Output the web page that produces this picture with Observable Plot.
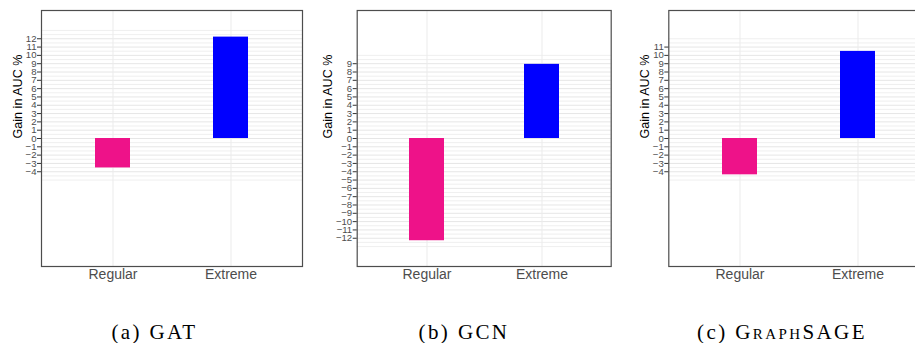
<!DOCTYPE html>
<html>
<head>
<meta charset="utf-8">
<script src="https://cdn.jsdelivr.net/npm/d3@7"></script>
<script src="https://cdn.jsdelivr.net/npm/@observablehq/plot@0.6"></script>
<style>
  html, body { margin: 0; padding: 0; background: #fff; overflow: hidden; }
  #wrap { position: relative; width: 915px; height: 343px; overflow: hidden; }
  .panel { position: absolute; top: 0; }
  .panel g[aria-label="y-axis tick label"] { font-size: 9.6px; }
  .panel g[aria-label="x-axis tick label"] { font-size: 14px; }
  .panel g.ylab { font-size: 12.6px; }
  .cap { position: absolute; top: 322px; width: 300px; text-align: center;
         font-family: "Liberation Serif", "Times New Roman", serif; font-size: 21px;
         line-height: 21px; color: #000; letter-spacing: 2.4px; white-space: nowrap; }
</style>
</head>
<body>
<div id="wrap"></div>
<script>
// ---- data ----
const categories = ["Regular", "Extreme"];
const models = ["GAT", "GCN", "GraphSAGE"];
const captions = ["(a) GAT", "(b) GCN", "(c) GraphSAGE"];
const regularGain = [-3.54, -12.3, -4.37];
const extremeGain = [12.2, 8.92, 10.48];
const tickLow = [-4, -12, -4];
const tickHigh = [12, 9, 11];
const yLabel = "Gain in AUC %";
const colors = ["#EE1289", "#0000FF"];

// ---- layout ----
const panels = [
  {left: 0,   width: 305, mL: 41,   mR: 3,   labDx: -24,   cap: 154.5},
  {left: 305, width: 310, mL: 51.7, mR: 4.3, labDx: -29.4, cap: 464},
  {left: 615, width: 316, mL: 53.3, mR: 1.7, labDx: -24,   cap: 782}
];

const wrap = document.getElementById("wrap");

models.forEach((m, k) => {
  const p = panels[k];
  const data = categories.map((c, j) => ({cat: c, gain: j === 0 ? regularGain[k] : extremeGain[k]}));
  const majors = d3.range(tickLow[k], tickHigh[k] + 1);
  const minors = d3.range(tickLow[k] - 1, tickHigh[k] + 1.01, 0.5).filter(v => !Number.isInteger(v) || v < tickLow[k] || v > tickHigh[k]);
  const chart = Plot.plot({
    width: p.width,
    height: 290,
    marginLeft: p.mL,
    marginRight: p.mR,
    marginTop: 10,
    marginBottom: 24,
    style: {fontFamily: "'Liberation Sans', Arial, sans-serif", background: "transparent", overflow: "visible"},
    x: {type: "band", domain: categories, paddingInner: 0.7, paddingOuter: 0.45, label: null},
    y: {domain: [-15.4, 15.4], label: null},
    color: {domain: categories, range: colors},
    marks: [
      Plot.gridY(minors, {stroke: "#ebebeb", strokeOpacity: 1, strokeWidth: 0.8}),
      Plot.gridY(majors, {stroke: "#e6e6e6", strokeOpacity: 1, strokeWidth: 1}),
      Plot.gridX(categories, {stroke: "#ebebeb", strokeOpacity: 1, strokeWidth: 1}),
      Plot.barY(data, {x: "cat", y: "gain", fill: d => d.cat}),
      Plot.frame({stroke: "#4d4d4d", strokeWidth: 1.2}),
      Plot.axisY(majors, {anchor: "left", tickSize: 4, tickPadding: 1, fontSize: 9.6, color: "#4d4d4d", stroke: "#333", tickFormat: d3.format("d"), label: null}),
      Plot.axisX({anchor: "bottom", tickSize: 0, tickPadding: 2.5, fontSize: 14, color: "#4d4d4d", label: null}),
      Plot.text([yLabel], {frameAnchor: "left", text: d => d, rotate: -90, dx: p.labDx, fontSize: 12.6, fill: "#000", className: "ylab"})
    ]
  });
  chart.classList.add("panel");
  chart.style.left = p.left + "px";
  wrap.appendChild(chart);

  const cap = document.createElement("div");
  cap.className = "cap";
  cap.style.left = (p.cap - 150) + "px";
  if (m === "GraphSAGE") {
    cap.innerHTML = '(c) <span style="font-variant: small-caps">GraphSAGE</span>';
  } else {
    cap.textContent = captions[k];
  }
  wrap.appendChild(cap);
});
</script>
</body>
</html>
